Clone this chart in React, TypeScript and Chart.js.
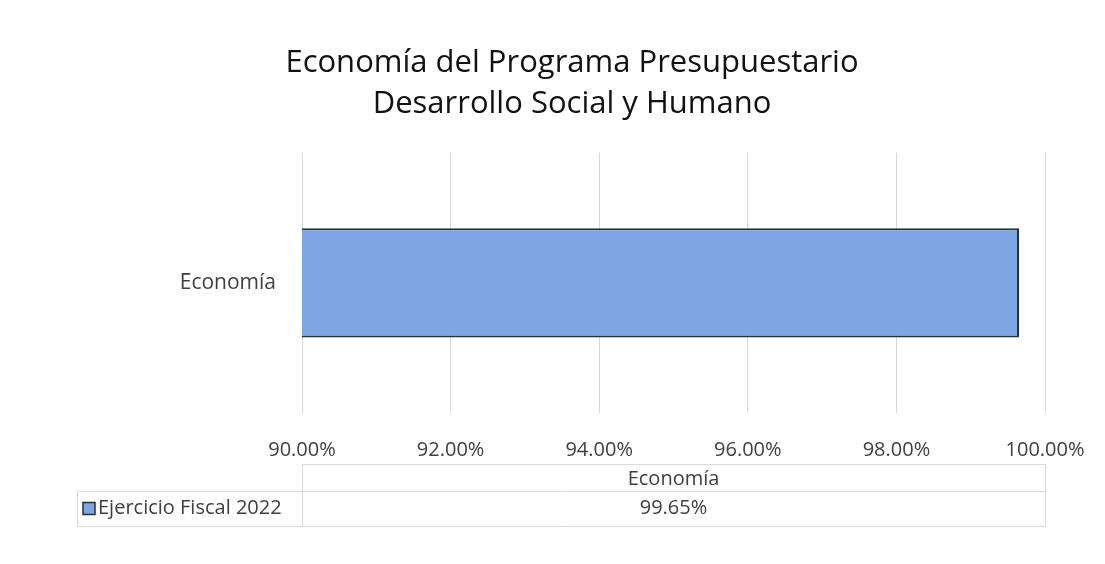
import React, { useEffect, useRef } from "react";
import { Chart, registerables } from "chart.js";

Chart.register(...registerables);

const titleLines = ["Economía del Programa Presupuestario", "Desarrollo Social y Humano"];
const categories = ["Economía"];
const seriesName = "Ejercicio Fiscal 2022";
const seriesValues = [99.65];
const axisMin = 90;
const axisMax = 100;
const axisStep = 2;

const FONT = "'Open Sans', 'Noto Sans', sans-serif";
const TEXT = "#404040";
const GRID = "#d9d9d9";
const BAR = "#7ea6e2";
const BAR_BORDER = "#25313d";

const fmt = (v: number) => v.toFixed(2) + "%";

const dataTablePlugin = {
  id: "dataTable",
  afterDraw(chart: any) {
    const ctx = chart.ctx;
    const x = chart.scales.x;
    const left = x.left;
    const right = x.right;
    const legendLeft = 77;
    const top = 464;
    const mid = 491;
    const bottom = 526;
    ctx.save();
    ctx.strokeStyle = GRID;
    ctx.lineWidth = 1;
    ctx.beginPath();
    ctx.moveTo(left + 0.5, top + 0.5);
    ctx.lineTo(right + 0.5, top + 0.5);
    ctx.moveTo(left + 0.5, top + 0.5);
    ctx.lineTo(left + 0.5, bottom + 0.5);
    ctx.moveTo(right + 0.5, top + 0.5);
    ctx.lineTo(right + 0.5, bottom + 0.5);
    ctx.moveTo(legendLeft + 0.5, mid + 0.5);
    ctx.lineTo(right + 0.5, mid + 0.5);
    ctx.moveTo(legendLeft + 0.5, bottom + 0.5);
    ctx.lineTo(right + 0.5, bottom + 0.5);
    ctx.moveTo(legendLeft + 0.5, mid + 0.5);
    ctx.lineTo(legendLeft + 0.5, bottom + 0.5);
    ctx.stroke();

    const n = categories.length;
    const colW = (right - left) / n;
    ctx.fillStyle = TEXT;
    ctx.font = `20px ${FONT}`;
    ctx.textAlign = "center";
    ctx.textBaseline = "middle";
    categories.forEach((c, i) => {
      const cx = left + colW * (i + 0.5);
      ctx.fillText(c, cx, (top + mid) / 2 + 2);
      ctx.fillText(fmt(seriesValues[i]), cx, (mid + bottom) / 2);
    });

    const ky = (mid + bottom) / 2;
    ctx.fillStyle = BAR;
    ctx.strokeStyle = BAR_BORDER;
    ctx.lineWidth = 1.5;
    ctx.fillRect(83, ky - 6, 12, 12);
    ctx.strokeRect(83, ky - 6, 12, 12);
    ctx.fillStyle = TEXT;
    ctx.textAlign = "left";
    ctx.fillText(seriesName, 98, ky);
    ctx.restore();
  },
};

export default function App() {
  const ref = useRef<HTMLCanvasElement | null>(null);
  useEffect(() => {
    if (!ref.current) return;
    const chart = new Chart(ref.current, {
      type: "bar",
      data: {
        labels: categories,
        datasets: [
          {
            label: seriesName,
            data: seriesValues,
            backgroundColor: BAR,
            borderColor: BAR_BORDER,
            borderWidth: 2,
            borderSkipped: false,
            categoryPercentage: 1,
            barPercentage: 0.42,
          },
        ],
      },
      options: {
        indexAxis: "y",
        responsive: false,
        animation: false,
        layout: { padding: { left: 99, right: 60, top: 0, bottom: 102 } },
        plugins: {
          legend: { display: false },
          tooltip: { enabled: false },
          title: {
            display: true,
            text: titleLines,
            color: "#111111",
            font: { family: FONT, size: 31, weight: "normal", lineHeight: 1.32 },
            padding: { top: 43, bottom: 28 },
          },
        },
        scales: {
          x: {
            min: axisMin,
            max: axisMax,
            ticks: {
              stepSize: axisStep,
              callback: (v: any) => fmt(Number(v)),
              color: TEXT,
              font: { family: FONT, size: 20 },
              padding: 25,
              maxRotation: 0,
            },
            grid: { color: GRID, drawTicks: false },
            border: { display: false },
            afterFit: (s: any) => {
              s.height = 49;
              s.paddingLeft = 0;
              s.paddingRight = 0;
            },
          },
          y: {
            ticks: {
              color: TEXT,
              font: { family: FONT, size: 21 },
              padding: 18,
            },
            grid: { display: false },
            border: { display: false },
            afterFit: (s: any) => {
              s.width = 203;
            },
          },
        },
      },
      plugins: [dataTablePlugin],
    });
    return () => chart.destroy();
  }, []);
  return (
    <div style={{ position: "absolute", left: 0, top: 0, width: 1105, height: 564, background: "#fff" }}>
      <canvas ref={ref} width={1105} height={564} style={{ display: "block" }} />
    </div>
  );
}
